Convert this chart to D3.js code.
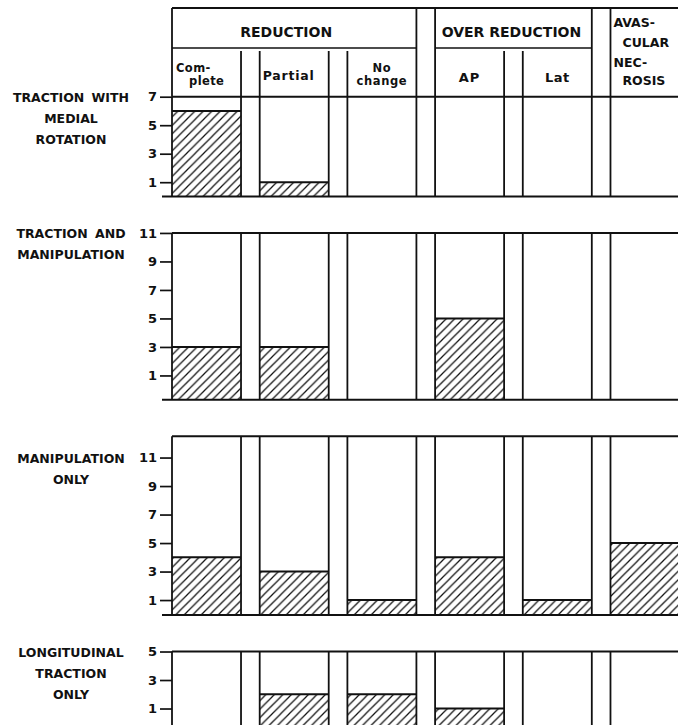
<!DOCTYPE html>
<html><head><meta charset="utf-8">
<script src="https://cdn.jsdelivr.net/npm/d3@7"></script>
<style>
html,body{margin:0;padding:0;background:#fff;}
svg{display:block;}
text{font-family:"DejaVu Sans",sans-serif;font-weight:bold;fill:#111;}
</style></head>
<body>
<svg id="chart" width="678" height="725"></svg>
<script>
// ---------- data ----------
const categories = ["Complete", "Partial", "No change", "AP", "Lat", "Avascular necrosis"];
const groups = [
  {name: "REDUCTION", first: 0, last: 2},
  {name: "OVER REDUCTION", first: 3, last: 4},
  {name: "", first: 5, last: 5}
];
const subLabels = [["Com-", "plete"], ["Partial"], ["No", "change"], ["AP"], ["Lat"], ["AVAS-", "CULAR", "NEC-", "ROSIS"]];
const treatments = [
  ["TRACTION WITH", "MEDIAL", "ROTATION"],
  ["TRACTION AND", "MANIPULATION"],
  ["MANIPULATION", "ONLY"],
  ["LONGITUDINAL", "TRACTION", "ONLY"]
];
const tractionMedialRotation = [6, 1, 0, 0, 0, 0];
const tractionManipulation   = [3, 3, 0, 5, 0, 0];
const manipulationOnly       = [4, 3, 1, 4, 1, 5];
const longitudinalTraction   = [0, 2, 2, 1, 0, 0];
const seriesValues = [tractionMedialRotation, tractionManipulation, manipulationOnly, longitudinalTraction];
const tickLabels = [[1, 3, 5, 7], [1, 3, 5, 7, 9, 11], [1, 3, 5, 7, 9, 11], [1, 3, 5]];
const axisMin = [0, -0.7, -0.05, -0.45];
const axisMax = [7, 11, 12.5, 5];

// ---------- layout ----------
const svg = d3.select("#chart");
const left = 172, right = 679.5;
const unit = 14.25, firstTop = 96.7, panelGap = 36.5;
const headerTop = 8, headerMid = 48;

const x = d3.scaleBand().domain(categories).range([left, right]).paddingInner(0.213).paddingOuter(0);
const bw = x.bandwidth();

const defs = svg.append("defs");
const pat = defs.append("pattern").attr("id", "hatch")
  .attr("patternUnits", "userSpaceOnUse").attr("width", 8.5).attr("height", 8.5);
pat.append("rect").attr("width", 8.5).attr("height", 8.5).attr("fill", "#fff");
pat.append("path").attr("d", "M-2,2 L2,-2 M0,8.5 L8.5,0 M6.5,10.5 L10.5,6.5")
  .attr("stroke", "#111").attr("stroke-width", 1.25);

const ink = "#111";

// ---------- header ----------
const hdr = svg.append("g");
hdr.append("line").attr("x1", left).attr("x2", 680).attr("y1", headerTop).attr("y2", headerTop)
  .attr("stroke", ink).attr("stroke-width", 1.9);

const panels = [];
let curTop = firstTop;
seriesValues.forEach((vals, i) => {
  const h = (axisMax[i] - axisMin[i]) * unit;
  panels.push({top: curTop, bottom: curTop + h, i, vals});
  curTop = curTop + h + panelGap;
});
const firstPanelTop = panels[0].top;

const groupShift = [-8, -2, 0];
groups.forEach((g, gi) => {
  const gx0 = x(categories[g.first]);
  const gx1 = x(categories[g.last]) + bw;
  [gx0, gx1].forEach(xx => hdr.append("line").attr("x1", xx).attr("x2", xx)
    .attr("y1", headerTop).attr("y2", firstPanelTop).attr("stroke", ink).attr("stroke-width", 1.8));
  if (g.last > g.first) {
    hdr.append("line").attr("x1", gx0).attr("x2", gx1).attr("y1", headerMid).attr("y2", headerMid)
      .attr("stroke", ink).attr("stroke-width", 1.3);
    hdr.append("text").attr("x", (gx0 + gx1) / 2 + groupShift[gi]).attr("y", 36.5).attr("text-anchor", "middle")
      .attr("font-size", 14).text(g.name);
    for (let c = g.first; c <= g.last; c++) {
      const cx0 = x(categories[c]), cx1 = cx0 + bw;
      if (c > g.first) hdr.append("line").attr("x1", cx0).attr("x2", cx0).attr("y1", headerMid + 3).attr("y2", firstPanelTop).attr("stroke", ink).attr("stroke-width", 1.8);
      if (c < g.last) hdr.append("line").attr("x1", cx1).attr("x2", cx1).attr("y1", headerMid + 3).attr("y2", firstPanelTop).attr("stroke", ink).attr("stroke-width", 1.8);
    }
  }
});

const subPos = [
  {fs: 11.5, ls: 0.4, lines: [{dx: 4, y: 71.5, a: "start"}, {dx: 17, y: 85, a: "start"}]},
  {fs: 12.5, ls: 0.8, lines: [{dx: 3, y: 79.5, a: "start"}]},
  {fs: 11.5, ls: 0.6, lines: [{dx: "c", y: 71.5}, {dx: "c", y: 85}]},
  {fs: 13, ls: 1, lines: [{dx: "c", y: 82}]},
  {fs: 13, ls: 0.5, lines: [{dx: "c", y: 82}]},
  {fs: 12.5, lines: [{dx: 3, y: 27, a: "start"}, {dx: 12, y: 47, a: "start"}, {dx: 3, y: 66.5, a: "start"}, {dx: 12, y: 85, a: "start"}]}
];
subLabels.forEach((lines, c) => {
  const cx0 = x(categories[c]);
  const spec = subPos[c];
  const t = hdr.append("text").attr("font-size", spec.fs).attr("letter-spacing", spec.ls || 0);
  lines.forEach((s, k) => {
    const p = spec.lines[k];
    t.append("tspan")
      .attr("x", p.dx === "c" ? cx0 + bw / 2 : cx0 + p.dx)
      .attr("y", p.y)
      .attr("text-anchor", p.a || "middle")
      .text(s);
  });
});

// ---------- panels ----------
panels.forEach(p => {
  const i = p.i;
  const y = d3.scaleLinear().domain([axisMin[i], axisMax[i]]).range([p.bottom, p.top]);
  const g = svg.append("g");

  p.vals.forEach((v, c) => {
    if (v <= 0) return;
    g.append("rect").attr("x", x(categories[c])).attr("width", bw)
      .attr("y", y(v)).attr("height", y(axisMin[i]) - y(v))
      .attr("fill", "url(#hatch)");
    g.append("line").attr("x1", x(categories[c])).attr("x2", x(categories[c]) + bw)
      .attr("y1", y(v)).attr("y2", y(v)).attr("stroke", ink).attr("stroke-width", 1.9);
  });

  categories.forEach(cat => {
    [x(cat), x(cat) + bw].forEach(xx => g.append("line").attr("x1", xx).attr("x2", xx)
      .attr("y1", p.top).attr("y2", p.bottom).attr("stroke", ink).attr("stroke-width", 1.8));
  });

  g.append("line").attr("x1", left).attr("x2", 680).attr("y1", p.top).attr("y2", p.top)
    .attr("stroke", ink).attr("stroke-width", 1.9);
  g.append("line").attr("x1", 162).attr("x2", 680).attr("y1", p.bottom).attr("y2", p.bottom)
    .attr("stroke", ink).attr("stroke-width", 2);

  const ax = g.append("g").attr("transform", `translate(${left},0)`)
    .call(d3.axisLeft(y).tickValues(tickLabels[i]).tickSize(12).tickPadding(3).tickFormat(d3.format("d")));
  ax.select(".domain").remove();
  ax.selectAll(".tick line").attr("stroke", ink).attr("stroke-width", 1.7);
  ax.selectAll(".tick text").attr("font-size", 13).attr("font-family", "DejaVu Sans").attr("font-weight", "bold").attr("fill", ink);

  const yTop = y(d3.max(tickLabels[i])) + 5.5;
  treatments[i].forEach((t, k) => {
    g.append("text").attr("x", 71).attr("y", yTop + k * 21).attr("text-anchor", "middle")
      .attr("font-size", 12.5).attr("word-spacing", 3).text(t);
  });
});
</script>
</body></html>
